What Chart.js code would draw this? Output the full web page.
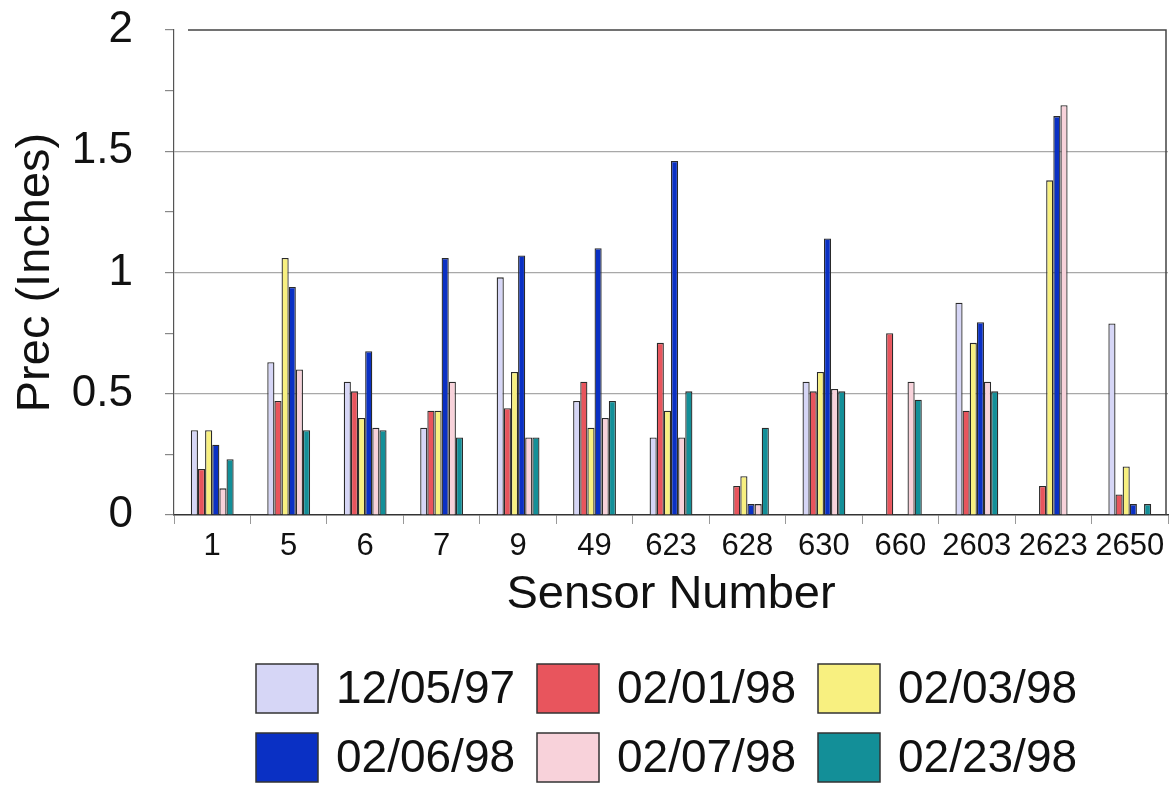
<!DOCTYPE html>
<html>
<head>
<meta charset="utf-8">
<script src="https://cdn.jsdelivr.net/npm/chart.js@4/dist/chart.umd.min.js"></script>
<style>
  html, body { margin: 0; padding: 0; background: #fff; }
  #wrap { width: 1176px; height: 785px; position: relative; }
</style>
</head>
<body>
<div id="wrap"><canvas id="precChart" width="1176" height="785"></canvas></div>
<script>
// ── DATA ─────────────────────────────────────────────────────
const sensors = ['1', '5', '6', '7', '9', '49', '623', '628', '630', '660', '2603', '2623', '2650'];
const dates   = ['12/05/97', '02/01/98', '02/03/98', '02/06/98', '02/07/98', '02/23/98'];

const prec_120597 = [0.35, 0.63, 0.55, 0.36, 0.98, 0.47, 0.32, 0,     0.55, 0,    0.875, 0,     0.79];
const prec_020198 = [0.19, 0.47, 0.51, 0.43, 0.44, 0.55, 0.71, 0.12,  0.51, 0.75, 0.43,  0.12,  0.085];
const prec_020398 = [0.35, 1.06, 0.40, 0.43, 0.59, 0.36, 0.43, 0.16,  0.59, 0,    0.71,  1.38,  0.20];
const prec_020698 = [0.29, 0.94, 0.675, 1.06, 1.07, 1.10, 1.46, 0.045, 1.14, 0,   0.795, 1.645, 0.045];
const prec_020798 = [0.11, 0.60, 0.36, 0.55, 0.32, 0.40, 0.32, 0.045, 0.52, 0.55, 0.55,  1.69,  0];
const prec_022398 = [0.23, 0.35, 0.35, 0.32, 0.32, 0.47, 0.51, 0.36,  0.51, 0.475, 0.51, 0,     0.045];

const yTicks = [0, 0.5, 1, 1.5, 2];

const seriesValues = [prec_120597, prec_020198, prec_020398, prec_020698, prec_020798, prec_022398];
const seriesColors = ['#d6d6f6', '#e8555d', '#f8f080', '#0a30c4', '#f8d2da', '#138f98'];

const FONT = 'Arial, "Liberation Sans", Helvetica, sans-serif';

// ── PLUGINS ──────────────────────────────────────────────────

// top + right edge of the plot box
const plotFrame = {
    id: 'plotFrame',
    afterDatasetsDraw(chart) {
        const { ctx, chartArea: a } = chart;
        ctx.save();
        ctx.strokeStyle = '#444';
        ctx.lineWidth = 1.5;
        ctx.beginPath();
        ctx.moveTo(a.left + 14, a.top);
        ctx.lineTo(a.right - 2, a.top);
        ctx.lineTo(a.right - 2, a.bottom);
        ctx.stroke();
        ctx.restore();
    }
};

// 3-column legend grid under the axis title
const gridLegend = {
    id: 'gridLegend',
    afterDraw(chart) {
        const { ctx } = chart;
        const left = 256, top = 664, colPitch = 281, rowPitch = 69, boxW = 62, boxH = 49;
        ctx.save();
        ctx.font = '46px ' + FONT;
        ctx.textBaseline = 'middle';
        ctx.textAlign = 'left';
        chart.data.datasets.forEach((ds, i) => {
            const x = left + (i % 3) * colPitch;
            const y = top + Math.floor(i / 3) * rowPitch;
            ctx.fillStyle = ds.backgroundColor;
            ctx.fillRect(x, y, boxW, boxH);
            ctx.strokeStyle = '#333';
            ctx.lineWidth = 1.5;
            ctx.strokeRect(x, y, boxW, boxH);
            ctx.fillStyle = '#111';
            ctx.fillText(ds.label, x + boxW + 18, y + boxH / 2 + 2);
        });
        ctx.restore();
    }
};

// ── CHART ────────────────────────────────────────────────────
const ctxPrec = document.getElementById('precChart');
new Chart(ctxPrec, {
    type: 'bar',
    data: {
        labels: sensors,
        datasets: dates.map((d, i) => ({
            label: d,
            data: seriesValues[i],
            backgroundColor: seriesColors[i],
            borderColor: '#2a2a2a',
            borderWidth: 1.3,
            categoryPercentage: 0.56,
            barPercentage: 1
        }))
    },
    options: {
        responsive: false,
        animation: false,
        layout: { padding: { left: 0, right: 8, top: 30, bottom: 162 } },
        plugins: {
            legend: { display: false },
            tooltip: { enabled: false }
        },
        scales: {
            x: {
                afterFit(scale) { scale.height = 108; scale.paddingLeft = 0; scale.paddingRight = 0; },
                grid: {
                    offset: true, drawOnChartArea: false,
                    tickLength: 9, tickColor: '#999', color: '#999'
                },
                border: { color: '#333', width: 1.5 },
                ticks: { color: '#111', font: { size: 31, family: FONT }, padding: 4, maxRotation: 0, autoSkip: false },
                title: {
                    display: true, text: 'Sensor Number', color: '#111',
                    font: { size: 47, family: FONT }, padding: { top: 0, bottom: 0 }
                }
            },
            y: {
                min: 0, max: 2,
                afterFit(scale) { scale.width = 174; scale.paddingTop = 0; scale.paddingBottom = 0; },
                afterBuildTicks(scale) {
                    // major ticks every 0.5 plus unlabelled minor ticks at the quarters
                    const t = [];
                    for (let i = 0; i < yTicks.length; i++) {
                        t.push({ value: yTicks[i] });
                        if (i < yTicks.length - 1) t.push({ value: (yTicks[i] + yTicks[i + 1]) / 2, minor: true });
                    }
                    scale.ticks = t;
                },
                grid: {
                    color: c => (c.tick && !c.tick.minor && c.tick.value > 0 && c.tick.value < 2) ? '#a8a8a8' : 'rgba(0,0,0,0)',
                    tickColor: '#888',
                    tickLength: 9,
                    lineWidth: 1.2
                },
                border: { color: '#555', width: 1.2 },
                ticks: {
                    color: '#111',
                    font: { size: 44, family: FONT },
                    padding: 32,
                    callback: v => yTicks.includes(v) ? String(v) : ''
                },
                title: {
                    display: true, text: 'Prec (Inches)', color: '#111',
                    font: { size: 47, family: FONT }, padding: { top: 8, bottom: 0 }
                }
            }
        }
    },
    plugins: [plotFrame, gridLegend]
});
</script>
</body>
</html>
